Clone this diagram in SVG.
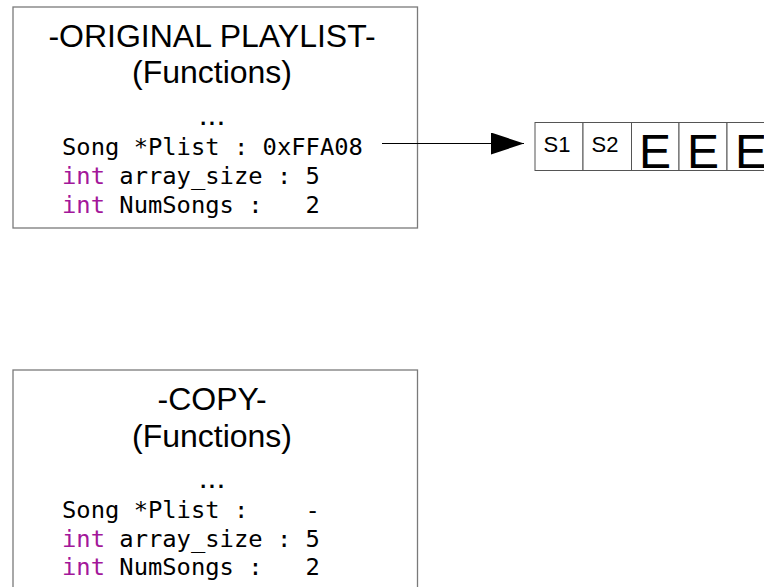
<svg xmlns="http://www.w3.org/2000/svg" width="764" height="587" viewBox="0 0 764 587">
<style>
.box{fill:#fff;stroke:#7a7a7a;stroke-width:1.3}
.title{font-family:"Liberation Sans",Arial,sans-serif;font-size:32px;fill:#000;text-anchor:middle}
.code{font-family:"DejaVu Sans Mono",monospace;font-size:23.8px;fill:#000;white-space:pre}
.kw{fill:#a3179a}
.cell{fill:#fff;stroke:#555;stroke-width:1}
.s{font-family:"Liberation Sans",Arial,sans-serif;font-size:22px;fill:#000;text-anchor:middle}
.e{font-family:"Liberation Sans",Arial,sans-serif;font-size:48px;fill:#000;text-anchor:middle}
.conn{stroke:#000;stroke-width:1;fill:none}
</style>
<defs>
<marker id="ah" markerWidth="33" markerHeight="22" refX="33" refY="11" orient="auto" markerUnits="userSpaceOnUse">
<polygon points="0,0 33,11 0,22" fill="#000"/>
</marker>
</defs>
<g id="original">
<rect class="box" x="13" y="7" width="404.5" height="221"/>
<text class="title" x="212" y="47">-ORIGINAL PLAYLIST-</text>
<text class="title" x="212" y="83">(Functions)</text>
<text class="title" x="212" y="125">...</text>
<text class="code" x="62" y="155" xml:space="preserve">Song *Plist : 0xFFA08</text>
<text class="code" x="62" y="184" xml:space="preserve"><tspan class="kw">int</tspan> array_size : 5</text>
<text class="code" x="62" y="213" xml:space="preserve"><tspan class="kw">int</tspan> NumSongs :   2</text>
</g>
<g id="copy">
<rect class="box" x="13" y="370" width="404.5" height="240"/>
<text class="title" x="212" y="410">-COPY-</text>
<text class="title" x="212" y="447">(Functions)</text>
<text class="title" x="212" y="488">...</text>
<text class="code" x="62" y="518" xml:space="preserve">Song *Plist :    -</text>
<text class="code" x="62" y="547" xml:space="preserve"><tspan class="kw">int</tspan> array_size : 5</text>
<text class="code" x="62" y="575" xml:space="preserve"><tspan class="kw">int</tspan> NumSongs :   2</text>
</g>
<g id="array">
<rect class="cell" x="535" y="122.5" width="48" height="48"/>
<rect class="cell" x="583" y="122.5" width="48.5" height="48"/>
<rect class="cell" x="631.5" y="122.5" width="47.5" height="48"/>
<rect class="cell" x="679" y="122.5" width="48" height="48"/>
<rect class="cell" x="727" y="122.5" width="48" height="48"/>
<text class="s" x="557" y="152">S1</text>
<text class="s" x="605" y="152">S2</text>
<text class="e" x="655" y="168">E</text>
<text class="e" x="703" y="168">E</text>
<text class="e" x="751" y="168">E</text>
</g>
<g id="connectors">
<line class="conn" x1="382" y1="143.5" x2="524" y2="143.5" marker-end="url(#ah)"/>
</g>
</svg>
